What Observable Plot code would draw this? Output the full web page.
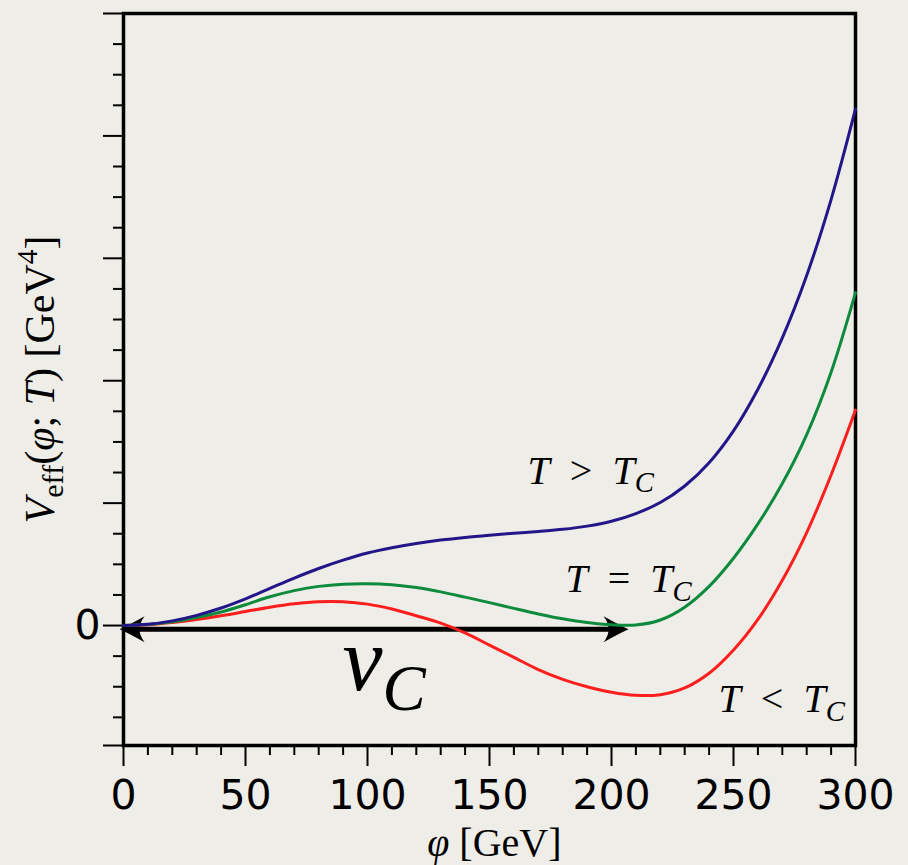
<!DOCTYPE html>
<html>
<head>
<meta charset="utf-8">
<script src="https://cdn.jsdelivr.net/npm/d3@7"></script>
<script src="https://cdn.jsdelivr.net/npm/@observablehq/plot@0.6"></script>
<style>
  html, body { margin: 0; padding: 0; background: #efede8; }
  #chart svg { display: block; }
  #chart text { white-space: pre; }
</style>
</head>
<body>
<div id="chart"></div>
<script>
// Field value φ in GeV
const phi = [0, 10, 20, 30, 40, 50, 60, 70, 80, 90, 100, 110, 120, 130, 140, 150,
             160, 170, 180, 190, 200, 210, 220, 230, 240, 250, 260, 270, 280, 290, 300];

// Effective potential (arbitrary units, one unit per major tick)
const vAbove = [0, 0.01, 0.038, 0.083, 0.143, 0.218, 0.303, 0.388, 0.466, 0.534, 0.592, 0.635, 0.67, 0.698, 0.72, 0.738,
                0.754, 0.769, 0.786, 0.812, 0.852, 0.915, 1.005, 1.14, 1.33, 1.59, 1.93, 2.35, 2.86, 3.48, 4.22];
const vCritical = [0, 0.008, 0.03, 0.065, 0.11, 0.17, 0.235, 0.285, 0.32, 0.338, 0.342, 0.333, 0.31, 0.275, 0.232, 0.187,
                   0.14, 0.095, 0.055, 0.024, 0.006, 0.004, 0.045, 0.15, 0.32, 0.55, 0.83, 1.16, 1.56, 2.07, 2.72];
const vBelow = [0, 0.006, 0.025, 0.05, 0.08, 0.115, 0.15, 0.178, 0.195, 0.195, 0.175, 0.135, 0.08, 0.02, -0.06, -0.16,
                -0.26, -0.36, -0.44, -0.50, -0.545, -0.57, -0.565, -0.51, -0.39, -0.20, 0.05, 0.37, 0.76, 1.23, 1.76];

// Axis ticks
const xMajorTicks = [0, 50, 100, 150, 200, 250, 300];
const xMinorTicks = [10, 20, 30, 40, 60, 70, 80, 90, 110, 120, 130, 140, 160, 170, 180, 190,
                     210, 220, 230, 240, 260, 270, 280, 290];
const yMajorTicks = [-0.98, 0, 1, 2, 3, 4, 5];
const yMinorTicks = [-0.75, -0.5, -0.25, 0.25, 0.5, 0.75, 1.25, 1.5, 1.75, 2.25, 2.5, 2.75,
                     3.25, 3.5, 3.75, 4.25, 4.5, 4.75];
const yTickLabels = {0: "0"};

// Critical vev: the double arrow spans 0 … v_C
const vevArrow = {from: -1.6, to: 207, v: -0.03};

const curves = [
  {key: "below", values: vBelow, color: "#fd1e1e"},
  {key: "critical", values: vCritical, color: "#0d8a3b"},
  {key: "above", values: vAbove, color: "#221689"}
];
const colorOf = Object.fromEntries(curves.map(c => [c.key, c.color]));
const rows = curves.flatMap(c => phi.map((p, i) => ({phi: p, v: c.values[i], key: c.key})));

// Math-style labels: plain text for the mark, parts for italic / sub / sup typesetting
const rel = s => `\u2002${s}\u2002`;
const mathParts = {
  "T > TC": [["T", "it"], [rel(">"), "rm"], ["T", "it"], ["C", "it sub"]],
  "T = TC": [["T", "it"], [rel("="), "rm"], ["T", "it"], ["C", "it sub"]],
  "T < TC": [["T", "it"], [rel("<"), "rm"], ["T", "it"], ["C", "it sub"]],
  "vC": [["v", "it"], ["C", "it sub"]],
  "Veff(φ; T) [GeV4]": [["V", "it"], ["eff", "rm sub"], ["(", "rm"], ["φ", "it"], [";", "rm"], [" T", "it"],
                        [")", "rm"], [" [GeV", "rm"], ["4", "rm sup"], ["]", "rm"]],
  "φ [GeV]": [["φ", "it"], [" [GeV]", "rm"]]
};

const curveLabels = [
  {phi: 165.6, v: 1.16, text: "T > TC"},
  {phi: 181.1, v: 0.27, text: "T = TC"},
  {phi: 243.9, v: -0.71, text: "T < TC"}
];
const vevLabel = [{phi: 89.8, v: -0.53, text: "vC"}];
const xLabel = [{phi: 152, text: "φ [GeV]"}];
const yLabel = ["Veff(φ; T) [GeV4]"];

const serif = "'Liberation Serif', 'DejaVu Serif', serif";
const sans = "'DejaVu Sans', sans-serif";

// Filled arrowheads with a concave back, tip at the origin
const headRight = {
  draw(ctx) {
    ctx.moveTo(0, 0);
    ctx.quadraticCurveTo(-9, -4, -25, -13);
    ctx.quadraticCurveTo(-15, 0, -25, 13);
    ctx.quadraticCurveTo(-9, 4, 0, 0);
    ctx.closePath();
  }
};
const headLeft = {
  draw(ctx) {
    ctx.moveTo(0, 0);
    ctx.quadraticCurveTo(9, -4, 25, -13);
    ctx.quadraticCurveTo(15, 0, 25, 13);
    ctx.quadraticCurveTo(9, 4, 0, 0);
    ctx.closePath();
  }
};

const chart = Plot.plot({
  width: 908,
  height: 865,
  marginLeft: 123,
  marginRight: 53,
  marginTop: 13,
  marginBottom: 120,
  style: {background: "transparent", color: "black", fontFamily: sans},
  x: {domain: [0, 300], label: null},
  y: {domain: [-0.98, 5], label: null},
  marks: [
    Plot.axisX({ticks: xMinorTicks, tickSize: 10, strokeWidth: 2, tickFormat: () => "", label: null}),
    Plot.axisX({ticks: xMajorTicks, tickSize: 21, strokeWidth: 2, tickPadding: 13, fontSize: 41,
                fontFamily: sans, label: null}),
    Plot.axisY({ticks: yMinorTicks, tickSize: 10, strokeWidth: 2, tickFormat: () => "", label: null}),
    Plot.axisY({ticks: yMajorTicks, tickSize: 20, strokeWidth: 2, tickPadding: 3, fontSize: 41,
                fontFamily: sans, tickFormat: d => yTickLabels[d] ?? "", label: null}),
    Plot.frame({stroke: "black", strokeWidth: 3.5}),
    // v_C double arrow
    Plot.line([{phi: vevArrow.from + 6, v: vevArrow.v}, {phi: vevArrow.to - 6, v: vevArrow.v}],
              {x: "phi", y: "v", stroke: "black", strokeWidth: 5}),
    Plot.dot([{phi: vevArrow.to, v: vevArrow.v}], {x: "phi", y: "v", symbol: headRight, fill: "black", stroke: "none"}),
    Plot.dot([{phi: vevArrow.from, v: vevArrow.v}], {x: "phi", y: "v", symbol: headLeft, fill: "black", stroke: "none"}),
    // potential curves
    Plot.line(rows, {x: "phi", y: "v", z: "key", stroke: d => colorOf[d.key],
                     strokeWidth: 3, curve: "catmull-rom"}),
    // annotations
    Plot.text(curveLabels, {x: "phi", y: "v", text: "text", textAnchor: "start", lineAnchor: "bottom",
                            fontSize: 40, fontFamily: serif}),
    Plot.text(vevLabel, {x: "phi", y: "v", text: "text", textAnchor: "start", lineAnchor: "bottom",
                         fontSize: 90, fontFamily: serif}),
    Plot.text(xLabel, {x: "phi", frameAnchor: "bottom", dy: 110, text: "text", textAnchor: "middle",
                       lineAnchor: "bottom", fontSize: 40, fontFamily: serif}),
    Plot.text(yLabel, {frameAnchor: "left", dx: -70, rotate: -90, text: d => d, textAnchor: "middle",
                       lineAnchor: "bottom", fontSize: 42, fontFamily: serif})
  ]
});

document.getElementById("chart").appendChild(chart);

// Typeset math labels: italic letters, subscripts and superscripts
const svgNS = "http://www.w3.org/2000/svg";
chart.querySelectorAll("text").forEach(el => {
  const parts = mathParts[el.textContent];
  if (!parts) return;
  const size = parseFloat(getComputedStyle(el).fontSize) || 40;
  while (el.firstChild) el.removeChild(el.firstChild);
  let shift = 0;
  for (const [str, style] of parts) {
    const t = document.createElementNS(svgNS, "tspan");
    t.textContent = str;
    let fs = size, target = 0;
    if (style.includes("sub")) { fs = size * 0.72; target = size * 0.22; }
    if (style.includes("sup")) { fs = size * 0.7; target = -size * 0.4; }
    t.setAttribute("font-size", fs);
    t.setAttribute("font-style", style.startsWith("it") ? "italic" : "normal");
    if (target !== shift) { t.setAttribute("dy", target - shift); shift = target; }
    el.appendChild(t);
  }
});
</script>
</body>
</html>
